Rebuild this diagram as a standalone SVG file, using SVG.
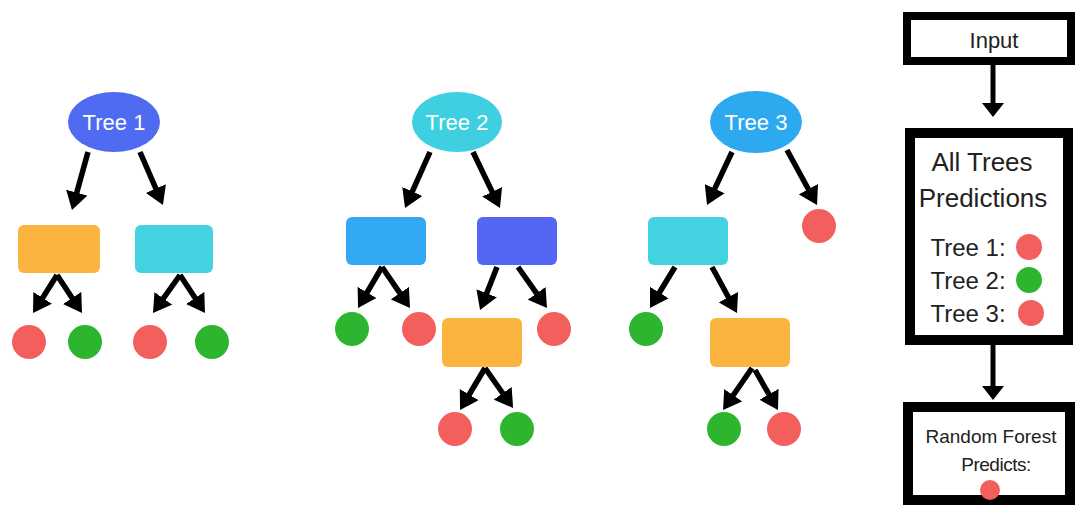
<svg xmlns="http://www.w3.org/2000/svg" width="1085" height="523" viewBox="0 0 1085 523">
<defs>
<style>
.lbl{font-family:"Liberation Sans",Arial,sans-serif;font-size:22px;fill:#ffffff;text-anchor:middle}
.ptxt{font-family:"Liberation Sans",Arial,sans-serif;fill:#222222;text-anchor:middle}
.red{fill:#f25f5c}
.green{fill:#2db52f}
.orange{fill:#fbb440}
.cyan{fill:#43d2e2}
.lblue{fill:#33a9f4}
.dblue{fill:#5366f4}
.box{fill:#ffffff;stroke:#000000}
.arr{stroke:#000000;stroke-width:5.5;fill:none;marker-end:url(#ah)}
.arr2{stroke:#000000;stroke-width:5;fill:none;marker-end:url(#ah2)}
</style>
<marker id="ah" markerUnits="userSpaceOnUse" viewBox="0 0 18 22" markerWidth="18" markerHeight="22" refX="4" refY="11" orient="auto">
<path d="M0,0 L18,11 L0,22 z" fill="#000000"/>
</marker>
<marker id="ah2" markerUnits="userSpaceOnUse" viewBox="0 0 14 22" markerWidth="14" markerHeight="22" refX="4" refY="11" orient="auto">
<path d="M0,0 L14,11 L0,22 z" fill="#000000"/>
</marker>
</defs>
<rect width="1085" height="523" fill="#ffffff"/>

<g id="connectors">
<line class="arr" x1="88" y1="152" x2="75.7" y2="196.5"/>
<line class="arr" x1="140" y1="152" x2="157.4" y2="192.2"/>
<line class="arr" x1="57" y1="275" x2="40.5" y2="301.2"/>
<line class="arr" x1="57" y1="275" x2="74.3" y2="301.3"/>
<line class="arr" x1="180" y1="275" x2="161.1" y2="301.6"/>
<line class="arr" x1="180" y1="275" x2="197.3" y2="301.3"/>

<line class="arr" x1="430" y1="152" x2="410.7" y2="195.2"/>
<line class="arr" x1="473" y1="152" x2="493.9" y2="195.4"/>
<line class="arr" x1="382" y1="267" x2="365.1" y2="295.9"/>
<line class="arr" x1="382" y1="267" x2="402.1" y2="296.4"/>
<line class="arr" x1="497" y1="267" x2="485.2" y2="297"/>
<line class="arr" x1="518" y1="267" x2="538.9" y2="296.6"/>
<line class="arr" x1="485" y1="368" x2="467.2" y2="398"/>
<line class="arr" x1="485" y1="368" x2="505" y2="396.5"/>

<line class="arr" x1="732" y1="152" x2="713" y2="192.3"/>
<line class="arr" x1="787" y1="150" x2="810.3" y2="192.7"/>
<line class="arr" x1="675" y1="267" x2="657.3" y2="296"/>
<line class="arr" x1="712" y1="267" x2="730.3" y2="300.7"/>
<line class="arr" x1="752" y1="368" x2="731" y2="398.5"/>
<line class="arr" x1="755" y1="370" x2="771" y2="397.8"/>

<line class="arr2" x1="993" y1="65" x2="993" y2="107"/>
<line class="arr2" x1="993" y1="345" x2="993" y2="390"/>
</g>

<g id="tree1">
<ellipse cx="114" cy="122" rx="46" ry="30" fill="#4f6bf1"/>
<text class="lbl" x="114" y="130">Tree 1</text>
</g>
<g id="t1-orange"><rect class="orange" x="18" y="225" width="82" height="48" rx="6"/></g>
<g id="t1-cyan"><rect class="cyan" x="135" y="225" width="78" height="48" rx="6"/></g>
<g id="t1-leaf1"><circle class="red" cx="29" cy="342" r="17"/></g>
<g id="t1-leaf2"><circle class="green" cx="85" cy="342" r="17"/></g>
<g id="t1-leaf3"><circle class="red" cx="150" cy="342" r="17"/></g>
<g id="t1-leaf4"><circle class="green" cx="212" cy="342" r="17"/></g>

<g id="tree2">
<ellipse cx="457" cy="122" rx="45" ry="30" fill="#3ecfe1"/>
<text class="lbl" x="457" y="130">Tree 2</text>
</g>
<g id="t2-lblue"><rect class="lblue" x="346" y="217" width="80" height="48" rx="6"/></g>
<g id="t2-dblue"><rect class="dblue" x="477" y="217" width="80" height="48" rx="6"/></g>
<g id="t2-leaf1"><circle class="green" cx="352" cy="329" r="17"/></g>
<g id="t2-leaf2"><circle class="red" cx="419" cy="329" r="17"/></g>
<g id="t2-orange"><rect class="orange" x="442" y="318" width="80" height="49" rx="6"/></g>
<g id="t2-leaf3"><circle class="red" cx="554" cy="329" r="17"/></g>
<g id="t2-leaf4"><circle class="red" cx="455" cy="429" r="17"/></g>
<g id="t2-leaf5"><circle class="green" cx="517" cy="429" r="17"/></g>

<g id="tree3">
<ellipse cx="756" cy="122" rx="46" ry="31" fill="#2da9ef"/>
<text class="lbl" x="756" y="130">Tree 3</text>
</g>
<g id="t3-cyan"><rect class="cyan" x="648" y="217" width="80" height="48" rx="6"/></g>
<g id="t3-leaf1"><circle class="red" cx="819" cy="226" r="17"/></g>
<g id="t3-leaf2"><circle class="green" cx="646" cy="329" r="17"/></g>
<g id="t3-orange"><rect class="orange" x="710" y="318" width="80" height="49" rx="6"/></g>
<g id="t3-leaf3"><circle class="green" cx="724" cy="429" r="17"/></g>
<g id="t3-leaf4"><circle class="red" cx="784" cy="429" r="17"/></g>

<g id="input">
<rect class="box" x="907" y="16" width="164" height="45" stroke-width="8"/>
<text class="ptxt" x="994" y="48" font-size="22">Input</text>
</g>

<g id="predictions">
<rect class="box" x="910" y="133" width="158" height="207" stroke-width="10"/>
<text class="ptxt" x="982" y="171" font-size="26">All Trees</text>
<text class="ptxt" x="983" y="207" font-size="26">Predictions</text>
<text class="ptxt" x="968" y="256" font-size="24">Tree 1:</text>
<circle class="red" cx="1029" cy="247" r="13"/>
<text class="ptxt" x="968" y="289" font-size="24">Tree 2:</text>
<circle class="green" cx="1029" cy="280" r="13"/>
<text class="ptxt" x="968" y="322" font-size="24">Tree 3:</text>
<circle class="red" cx="1031" cy="313" r="13"/>
</g>

<g id="result">
<rect class="box" x="908" y="407" width="162" height="93" stroke-width="10"/>
<text class="ptxt" x="991" y="443" font-size="19">Random Forest</text>
<text class="ptxt" x="996" y="471" font-size="19" letter-spacing="-0.5">Predicts:</text>
<circle class="red" cx="990" cy="490" r="10"/>
</g>
</svg>
